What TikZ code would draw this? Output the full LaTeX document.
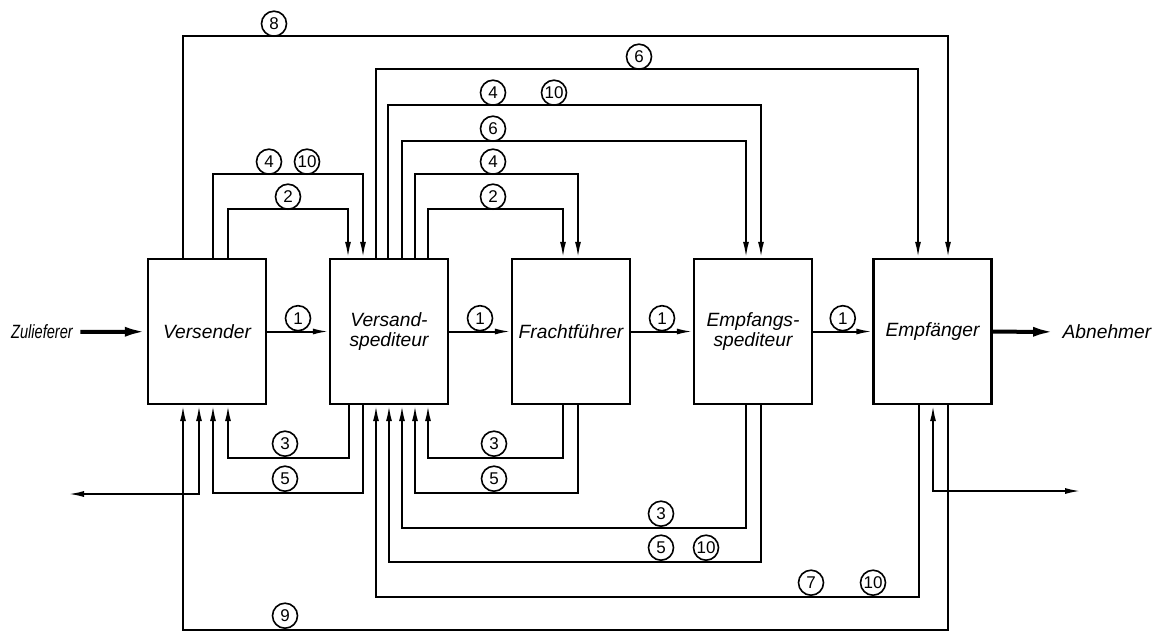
\documentclass[tikz,border=0pt]{standalone}
\usepackage{fontspec}
\setmainfont{Liberation Sans}
\usepackage{tikz}
\usetikzlibrary{arrows.meta}

\begin{document}
\begin{tikzpicture}[x=0.5pt,y=-0.5pt,>={Latex[length=8pt,width=3pt]},line width=1pt,
box/.style={draw,line width=1.2pt,minimum width=59pt,minimum height=72.5pt,inner sep=0pt,align=center,font=\fontsize{9.6}{9.8}\selectfont\itshape},
num/.style={draw,circle,line width=0.8pt,minimum size=12.5pt,inner sep=0pt,anchor=south,font=\fontsize{8.5}{8.5}\selectfont},
fat/.style={line width=2pt,-{Latex[length=11pt,width=5pt]}},
txt/.style={font=\fontsize{9.6}{9.6}\selectfont\itshape}]
\useasboundingbox (0,0) rectangle (1154,632);
\node[box] (vers) at (207,331.5) {Versender};
\node[box] (vsp) at (389,331.5) {Versand-\\spediteur};
\node[box] (fra) at (571,331.5) {Frachtführer};
\node[box] (emsp) at (753,331.5) {Empfangs-\\spediteur};
\node[box] (emp) at (932.5,331.5) {Empfänger};
\node[txt] (zul) at (42,332) {\scalebox{0.76}[1]{Zulieferer}};
\node[txt,anchor=west] (abn) at (1055,332) {Abnehmer};
\coordinate (lout) at (68,494);
\coordinate (rout) at (1081,491);
\draw[fat] (zul) -- (vers);
\draw[fat] (emp) -- (abn);
\draw[->] (vers) -- node[num,midway] (f1) {1} (vsp);
\draw[->] (vsp) -- node[num,midway] (f2) {1} (fra);
\draw[->] (fra) -- node[num,midway] (f3) {1} (emsp);
\draw[->] (emsp) -- node[num,midway] (f4) {1} (emp);
\draw[->] (vers.north -| 183,0) -- ++(0,-222) -| (emp.north -| 948,0);
\draw[->] (vers.north -| 213,0) -- ++(0,-84) -| (vsp.north -| 363,0);
\draw[->] (vers.north -| 228,0) -- ++(0,-49) -| (vsp.north -| 348,0);
\draw[->] (vsp.north -| 376,0) -- ++(0,-189) -| (emp.north -| 918,0);
\draw[->] (vsp.north -| 388,0) -- ++(0,-153) -| (emsp.north -| 761,0);
\draw[->] (vsp.north -| 402,0) -- ++(0,-117) -| (emsp.north -| 746,0);
\draw[->] (vsp.north -| 415,0) -- ++(0,-84) -| (fra.north -| 578,0);
\draw[->] (vsp.north -| 428,0) -- ++(0,-49) -| (fra.north -| 563,0);
\draw[->] (vsp.south -| 349,0) -- ++(0,53) -| (vers.south -| 228,0);
\draw[->] (vsp.south -| 363,0) -- ++(0,88) -| (vers.south -| 213,0);
\draw[->] (fra.south -| 563,0) -- ++(0,53) -| (vsp.south -| 428,0);
\draw[->] (fra.south -| 578,0) -- ++(0,88) -| (vsp.south -| 415,0);
\draw[->] (emsp.south -| 746,0) -- ++(0,123) -| (vsp.south -| 402,0);
\draw[->] (emsp.south -| 761,0) -- ++(0,157) -| (vsp.south -| 389,0);
\draw[->] (emp.south -| 919,0) -- ++(0,192) -| (vsp.south -| 376,0);
\draw[->] (emp.south -| 948,0) -- ++(0,225) -| (vers.south -| 183,0);
\draw[<->] (lout) -| (vers.south -| 199,0);
\draw[<->] (emp.south -| 933,0) |- (rout);
\node[num] (c8) at (274,37) {8};
\node[num] (c6a) at (639,70) {6};
\node[num] (c4a) at (493,106) {4};
\node[num] (c10a) at (554,106) {10};
\node[num] (c6b) at (493,142) {6};
\node[num] (c4b) at (493,175) {4};
\node[num] (c2b) at (493,210) {2};
\node[num] (c4c) at (269,175) {4};
\node[num] (c10c) at (307,175) {10};
\node[num] (c2c) at (288,210) {2};
\node[num] (c3a) at (285,457) {3};
\node[num] (c5a) at (285,492) {5};
\node[num] (c3b) at (494,457) {3};
\node[num] (c5b) at (494,492) {5};
\node[num] (c3c) at (661,527) {3};
\node[num] (c5c) at (661,561) {5};
\node[num] (c10d) at (706,561) {10};
\node[num] (c7) at (811,596) {7};
\node[num] (c10e) at (873,596) {10};
\node[num] (c9) at (285,629) {9};
\end{tikzpicture}
\end{document}
